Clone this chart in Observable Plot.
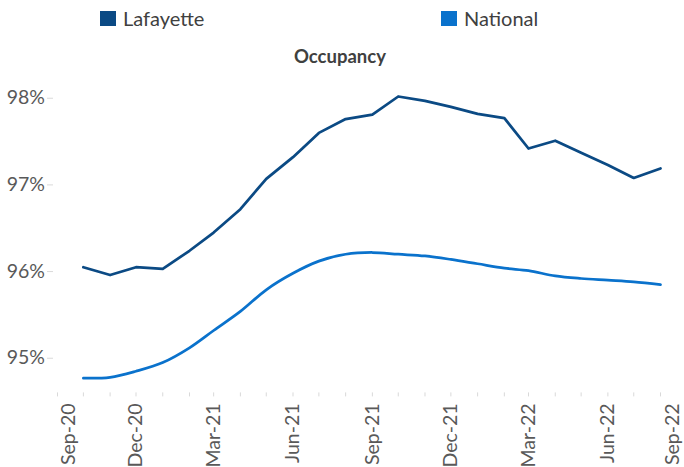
<!DOCTYPE html>
<html>
<head>
<meta charset="utf-8">
<script src="https://cdn.jsdelivr.net/npm/d3@7"></script>
<script src="https://cdn.jsdelivr.net/npm/@observablehq/plot@0.6"></script>
<style>
  html, body { margin: 0; padding: 0; background: #fff; }
  body { width: 684px; height: 467px; overflow: hidden; font-family: Lato, sans-serif; }
  #header { position: relative; width: 684px; height: 70px; }
  .sw { position: absolute; width: 16px; height: 15px; top: 11px; }
  .lg { position: absolute; top: 8px; font-size: 20px; line-height: 20px; color: #404040; white-space: nowrap; }
  #title { position: absolute; left: 0; width: 680px; top: 47px; text-align: center; font-weight: bold; font-size: 18.5px; line-height: 18.5px; color: #404040; }
</style>
</head>
<body>
<div id="header"></div>
<div id="chart"></div>
<script>
// ---- data ----
const months = ["2020-10","2020-11","2020-12","2021-01","2021-02","2021-03","2021-04","2021-05","2021-06","2021-07","2021-08","2021-09","2021-10","2021-11","2021-12","2022-01","2022-02","2022-03","2022-04","2022-05","2022-06","2022-07","2022-08"];
const lafayette = [96.05,95.96,96.05,96.03,96.24,96.45,96.72,97.07,97.32,97.60,97.76,97.81,98.02,97.97,97.90,97.82,97.77,97.42,97.51,97.37,97.23,97.08,97.19];
const national  = [94.77,94.78,94.85,94.95,95.12,95.32,95.54,95.79,95.98,96.12,96.20,96.22,96.20,96.18,96.14,96.09,96.04,96.01,95.95,95.92,95.90,95.88,95.85];
const seriesNames = ["Lafayette","National"];
const seriesColors = ["#0B4A84","#0A72CC"];
const labelMonths = ["2020-09","2020-12","2021-03","2021-06","2021-09","2021-12","2022-03","2022-06","2022-09"];
const tickMonths = ["2020-09","2020-10","2020-11","2020-12","2021-01","2021-02","2021-03","2021-04","2021-05","2021-06","2021-07","2021-08","2021-09","2021-10","2021-11","2021-12","2022-01","2022-02","2022-03","2022-04","2022-05","2022-06","2022-07","2022-08"];
const yTicks = [95, 96, 97, 98];
const chartTitle = "Occupancy";

// ---- header (legend + title) ----
const header = document.getElementById("header");
const legendPos = [[100, 123], [441, 464]];
seriesNames.forEach((name, i) => {
  const sw = document.createElement("div");
  sw.className = "sw";
  sw.style.left = legendPos[i][0] + "px";
  sw.style.background = seriesColors[i];
  header.appendChild(sw);
  const t = document.createElement("div");
  t.className = "lg";
  t.style.left = legendPos[i][1] + "px";
  t.textContent = name;
  header.appendChild(t);
});
const title = document.createElement("div");
title.id = "title";
title.textContent = chartTitle;
header.appendChild(title);

// ---- table ----
const parse = d3.utcParse("%Y-%m");
const rows = [];
months.forEach((m, i) => {
  rows.push({date: parse(m), value: lafayette[i], series: seriesNames[0]});
  rows.push({date: parse(m), value: national[i], series: seriesNames[1]});
});
const labelDates = labelMonths.map(parse);
const tickDates = tickMonths.map(parse);
const fmt = d3.utcFormat("%b-%y");

const axisText = {
  tickSize: 0, tickPadding: 10.5, tickRotate: -90, fill: "#595959",
  tickFormat: fmt, label: null, fontSize: 19.5
};

const chart = Plot.plot({
  width: 684,
  height: 397,
  marginLeft: 57,
  marginRight: 24,
  marginTop: 10.4,
  marginBottom: 74.6,
  style: {fontFamily: "Lato, sans-serif", background: "transparent", overflow: "visible"},
  x: {type: "utc", domain: [parse("2020-09"), parse("2022-08")]},
  y: {domain: [94.6, 98.2]},
  marks: [
    Plot.axisY({ticks: yTicks, tickFormat: d => d + "%", tickSize: 6, tickPadding: 2.5, dx: -4,
      stroke: "#d9d9d9", fill: "#595959", fontSize: 19.5, label: null}),
    Plot.axisX({ticks: tickDates, tickSize: 4, stroke: "#d9d9d9", fill: "none", label: null}),
    Plot.axisX({...axisText, ticks: labelDates.slice(1, -1)}),
    Plot.axisX({...axisText, ticks: labelDates.slice(0, 1), dx: 11}),
    Plot.axisX({...axisText, ticks: labelDates.slice(-1), dx: -14}),
    Plot.lineY(rows.filter(d => d.series === seriesNames[1]), {x: "date", y: "value",
      stroke: seriesColors[1], strokeWidth: 2.75, curve: "catmull-rom"}),
    Plot.lineY(rows.filter(d => d.series === seriesNames[0]), {x: "date", y: "value",
      stroke: seriesColors[0], strokeWidth: 2.75})
  ]
});
document.getElementById("chart").appendChild(chart);
</script>
</body>
</html>
